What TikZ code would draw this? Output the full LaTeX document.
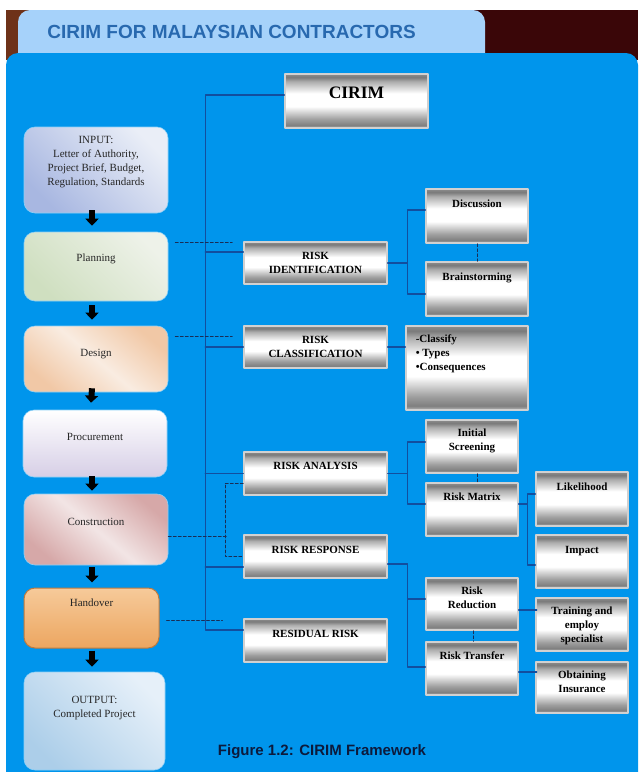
\documentclass[tikz,border=0pt]{standalone}
\usepackage{fontspec}
\setmainfont{Liberation Serif}
\newfontfamily\headfont{Liberation Sans}
\usetikzlibrary{arrows.meta}

\definecolor{panelblue}{RGB}{0,149,236}
\definecolor{tabblue}{RGB}{166,210,250}
\definecolor{titleblue}{RGB}{40,105,175}
\definecolor{capnavy}{RGB}{12,26,60}
\definecolor{darkmaroon}{RGB}{58,6,8}
\definecolor{barkbrown}{RGB}{110,50,25}
\definecolor{linkblue}{RGB}{18,78,158}
\definecolor{dashnavy}{RGB}{25,45,85}
\definecolor{inA}{RGB}{168,183,225}
\definecolor{inB}{RGB}{234,238,247}
\definecolor{plA}{RGB}{207,223,192}
\definecolor{plB}{RGB}{238,242,233}
\definecolor{deA}{RGB}{241,200,166}
\definecolor{deB}{RGB}{249,236,225}
\definecolor{prB}{RGB}{214,206,230}
\definecolor{coA}{RGB}{214,168,168}
\definecolor{coB}{RGB}{242,229,229}
\definecolor{hoA}{RGB}{246,202,154}
\definecolor{hoB}{RGB}{236,166,96}
\definecolor{hoC}{RGB}{190,122,62}
\definecolor{ouA}{RGB}{172,206,233}
\definecolor{ouB}{RGB}{230,240,249}

\pgfdeclareverticalshading{metal}{100bp}{color(0bp)=(black!30); color(25bp)=(black!28); color(27.5bp)=(black!50); color(33bp)=(black!38); color(45bp)=(white); color(57bp)=(white); color(68bp)=(black!32); color(72bp)=(black!52); color(75bp)=(black!45); color(100bp)=(black!45)}

\begin{document}
\begin{tikzpicture}[line cap=round,line join=round,x=1pt,y=-1pt,
  metal/.style={shading=metal, draw=black!18, line width=1.4pt, inner sep=0pt},
  phase/.style={rounded corners=11, draw=white!55!panelblue, line width=0.6pt, minimum width=144, inner sep=0pt},
  btxt/.style={anchor=center, font=\bfseries\fontsize{11}{14}\selectfont, align=center, text=black},
  ltxt/.style={anchor=center, font=\fontsize{11}{14}\selectfont, align=center, text=black!85},
  link/.style={draw=linkblue, line width=1.3pt},
  dashlink/.style={draw=dashnavy, line width=0.8pt, dash pattern=on 3pt off 2pt},
  blk/.style={line width=6pt, line cap=butt, -{Triangle[width=13pt,length=7pt]}}]
\useasboundingbox (0,0) rectangle (638,772);
\clip (0,0) rectangle (638,772);
\fill[white] (0,0) rectangle (638,772);
\fill[darkmaroon] (6,10) rectangle (638,60);
\fill[barkbrown] (6,10) rectangle (30,60);
\fill[tabblue, rounded corners=12] (18,10) rectangle (485,80);
\node[font=\headfont\bfseries\fontsize{19}{21}\selectfont, text=titleblue] (title) at (231.5,32) {CIRIM FOR MALAYSIAN CONTRACTORS};
\fill[panelblue, rounded corners=12] (6,53) rectangle (638,800);

\node[metal, minimum width=143, minimum height=54, label={[btxt, font=\bfseries\fontsize{17.5}{20}\selectfont, yshift=8]center:CIRIM}] (cirim) at (356.5,101) {};
\node[metal, minimum width=143, minimum height=42, label={[btxt]center:RISK\\IDENTIFICATION}] (ri) at (315.5,263) {};
\node[metal, minimum width=143, minimum height=42, label={[btxt]center:RISK\\CLASSIFICATION}] (rc) at (315.5,347) {};
\node[metal, minimum width=143, minimum height=43, label={[btxt, yshift=7.5]center:RISK ANALYSIS}] (ra) at (315.5,473.5) {};
\node[metal, minimum width=143, minimum height=43, label={[btxt, yshift=6.5]center:RISK RESPONSE}] (rr) at (315.5,556.5) {};
\node[metal, minimum width=143, minimum height=43, label={[btxt, yshift=6.5]center:RESIDUAL RISK}] (resid) at (315.5,640.5) {};

\node[metal, minimum width=102, minimum height=54, label={[btxt, yshift=12]center:Discussion}] (disc) at (477,216) {};
\node[metal, minimum width=102, minimum height=54, label={[btxt, yshift=11]center:Brainstorming}] (brain) at (477,289) {};
\node[metal, minimum width=122, minimum height=84, label={[btxt, anchor=north west, align=left, xshift=7, yshift=-6]north west:-Classify\\\textbullet\ Types\\\textbullet Consequences}] (classify) at (467,368) {};

\node[metal, minimum width=92, minimum height=53, label={[btxt, yshift=5.5]center:Initial\\Screening}] (screen) at (472,446.5) {};
\node[metal, minimum width=92, minimum height=53, label={[btxt, yshift=12.5]center:Risk Matrix}] (matrix) at (472,509.5) {};
\node[metal, minimum width=92, minimum height=54, label={[btxt, yshift=12]center:Likelihood}] (likely) at (582,499) {};
\node[metal, minimum width=92, minimum height=53, label={[btxt, yshift=10.5]center:Impact}] (impact) at (582,561.5) {};
\node[metal, minimum width=92, minimum height=52, label={[btxt, yshift=6]center:Risk\\Reduction}] (reduce) at (472,604) {};
\node[metal, minimum width=92, minimum height=53, label={[btxt, yshift=12.5]center:Risk Transfer}] (transfer) at (472,668.5) {};
\node[metal, minimum width=92, minimum height=53, label={[btxt, yshift=-1.5]center:Training and\\employ\\specialist}] (training) at (582,624.5) {};
\node[metal, minimum width=92, minimum height=51, label={[btxt, yshift=5.5]center:Obtaining\\Insurance}] (insure) at (582,687.5) {};

\node[phase, minimum height=86, top color=inB, bottom color=inA, shading angle=-45, label={[ltxt, yshift=8]center:INPUT:\\Letter of Authority,\\Project Brief, Budget,\\Regulation, Standards}] (input) at (96,170) {};
\node[phase, minimum height=69, top color=plB, bottom color=plA, shading angle=-45, label={[ltxt, yshift=7.5]center:Planning}] (plan) at (96,266.5) {};
\node[phase, minimum height=66, top color=deA, bottom color=deA, middle color=deB, shading angle=-40, label={[ltxt, yshift=5]center:Design}] (design) at (96,359) {};
\node[phase, minimum height=67, top color=white, bottom color=prB, label={[ltxt, yshift=6.5]center:Procurement}] (procure) at (95,443.5) {};
\node[phase, minimum height=71, top color=coA, bottom color=coA, middle color=coB, shading angle=-40, label={[ltxt, yshift=7.5]center:Construction}] (constr) at (96,529.5) {};
\node[phase, minimum width=135, minimum height=60, draw=hoC, line width=1pt, top color=hoA, bottom color=hoB, label={[ltxt, yshift=15]center:Handover}] (handover) at (91.5,618) {};
\node[phase, minimum width=141, minimum height=98, top color=ouB, bottom color=ouA, shading angle=-45, label={[ltxt, yshift=13]center:OUTPUT:\\Completed Project}] (output) at (94.5,721) {};

\draw[blk] ([xshift=-4,yshift=3]input.south) -- ([xshift=-4,yshift=6]plan.north);
\draw[blk] ([xshift=-4,yshift=-4]plan.south) -- ([xshift=-4,yshift=6]design.north);
\draw[blk] ([xshift=-4,yshift=4]design.south) -- ([xshift=-4,yshift=7]procure.north);
\draw[blk] ([xshift=-3,yshift=1]procure.south) -- ([xshift=-4,yshift=3]constr.north);
\draw[blk] ([xshift=-4,yshift=-2]constr.south) -- ([xshift=0.5,yshift=5]handover.north);
\draw[blk] ([xshift=0.5,yshift=-2]handover.south) -- ([xshift=-2.5,yshift=5]output.north);

\draw[link] ([yshift=6]cirim.west) -| ++(-79,535) -- ([yshift=10.5]resid.west);
\draw[link] ([yshift=11]ri.west) -- ++(-38,0);
\draw[link] (rc.west) -- ++(-38,0);
\draw[link] (ra.west) -- ++(-38,0);
\draw[link] ([yshift=-10.5]rr.west) -- ++(-38,0);

\draw[link] (ri.east) -- ++(20,0) coordinate (rifork) |- ([yshift=6]disc.west);
\draw[link] (rifork) |- ([yshift=-5]brain.west);
\draw[link] (rc.east) -- (rc.east -| classify.west);
\draw[link] (ra.east) -- ++(20,0) coordinate (rafork) |- ([yshift=4.5]screen.west);
\draw[link] (rafork) |- ([yshift=5.5]matrix.west);
\draw[link] ([yshift=5.5]matrix.east) -- ++(9,0) coordinate (mxfork) |- ([yshift=5]likely.west);
\draw[link] (mxfork) |- ([yshift=-3.5]impact.west);
\draw[link] ([yshift=-7.5]rr.east) -- ++(20,0) coordinate (rrfork) |- ([yshift=5]reduce.west);
\draw[link] (rrfork) |- ([yshift=1.5]transfer.west);
\draw[link] ([yshift=-6]reduce.east) -- ++(18,0);
\draw[link] ([yshift=-3.5]transfer.east) -- ++(18,0);

\draw[dashlink] (disc.south) -- (brain.north);
\draw[dashlink] ([xshift=5]screen.south) -- ([xshift=5]matrix.north);
\draw[dashlink] ([xshift=1]reduce.south) -- ([xshift=1]transfer.north);
\draw[dashlink] ([xshift=7,yshift=24.5]plan.east) -- ++(57,0);
\draw[dashlink] ([xshift=7,yshift=23]design.east) -- ++(57,0);
\draw[dashlink] ([yshift=-6.5]constr.east) -- ++(58,0);
\draw[dashlink] ([yshift=-9.5]ra.west) -- ++(-18,0) |- (rr.west);
\draw[dashlink] ([xshift=7,yshift=-2]handover.east) -- ++(56,0);

\node[font=\headfont\bfseries\fontsize{15}{17}\selectfont, text=capnavy] (caption) at (322,752) {Figure 1.2: CIRIM Framework};
\end{tikzpicture}
\end{document}
